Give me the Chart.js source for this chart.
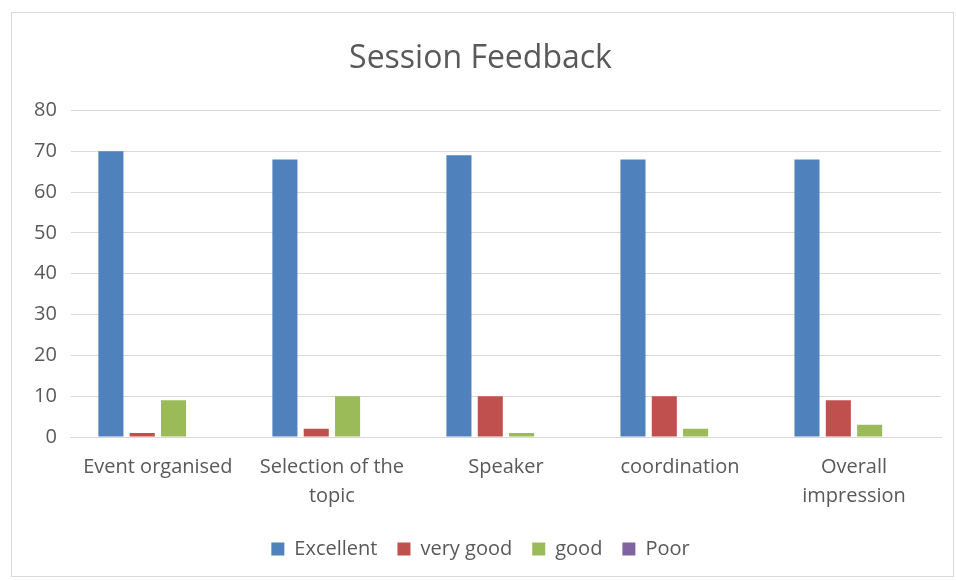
<!DOCTYPE html>
<html>
<head>
<meta charset="utf-8">
<script src="https://cdn.jsdelivr.net/npm/chart.js@4"></script>
<style>
  html, body { margin: 0; padding: 0; background: #fff; }
  #frame {
    position: absolute; left: 11px; top: 12px;
    width: 943px; height: 565px;
    border: 1px solid #d9d9d9; box-sizing: border-box;
  }
  #chart { display: block; }
</style>
</head>
<body>
<div id="frame"><canvas id="chart" width="941" height="563"></canvas></div>
<script>
// ===== Data =====
const categories = ['Event organised', ['Selection of the', 'topic'], 'Speaker', 'coordination', ['Overall', 'impression']];
const excellent = [70, 68, 69, 68, 68];
const veryGood = [1, 2, 10, 10, 9];
const good = [9, 10, 1, 2, 3];
const poor = [0, 0, 0, 0, 0];

const textColor = '#595959';
const gridColor = '#d9d9d9';
const fontFamily = '"Open Sans", "Liberation Sans", sans-serif';

const ctx = document.getElementById('chart');
new Chart(ctx, {
  type: 'bar',
  data: {
    labels: categories,
    datasets: [
      { label: 'Excellent', data: excellent, backgroundColor: '#4f81bd' },
      { label: 'very good', data: veryGood, backgroundColor: '#c0504d' },
      { label: 'good', data: good, backgroundColor: '#9bbb59' },
      { label: 'Poor', data: poor, backgroundColor: '#8064a2' },
    ],
  },
  options: {
    responsive: false,
    animation: false,
    datasets: { bar: { categoryPercentage: 0.72, barPercentage: 0.8 } },
    layout: { padding: { left: 8, right: 12, top: 14, bottom: 7 } },
    plugins: {
      title: {
        display: true,
        text: 'Session Feedback',
        color: textColor,
        font: { family: fontFamily, size: 32, weight: 'normal' },
        padding: { top: 13, bottom: 32 },
      },
      legend: {
        position: 'bottom',
        labels: {
          color: textColor,
          font: { family: fontFamily, size: 20 },
          boxWidth: 13,
          boxHeight: 13,
          padding: 20,
        },
      },
      tooltip: { enabled: false },
    },
    scales: {
      x: {
        grid: { display: false },
        border: { color: gridColor },
        ticks: { color: textColor, font: { family: fontFamily, size: 20, lineHeight: 1.45 }, maxRotation: 0, padding: 8 },
      },
      y: {
        min: 0,
        max: 80,
        grid: { color: gridColor, drawTicks: false },
        border: { display: false },
        ticks: { stepSize: 10, color: textColor, font: { family: fontFamily, size: 20 }, padding: 14 },
      },
    },
  },
});
</script>
</body>
</html>
